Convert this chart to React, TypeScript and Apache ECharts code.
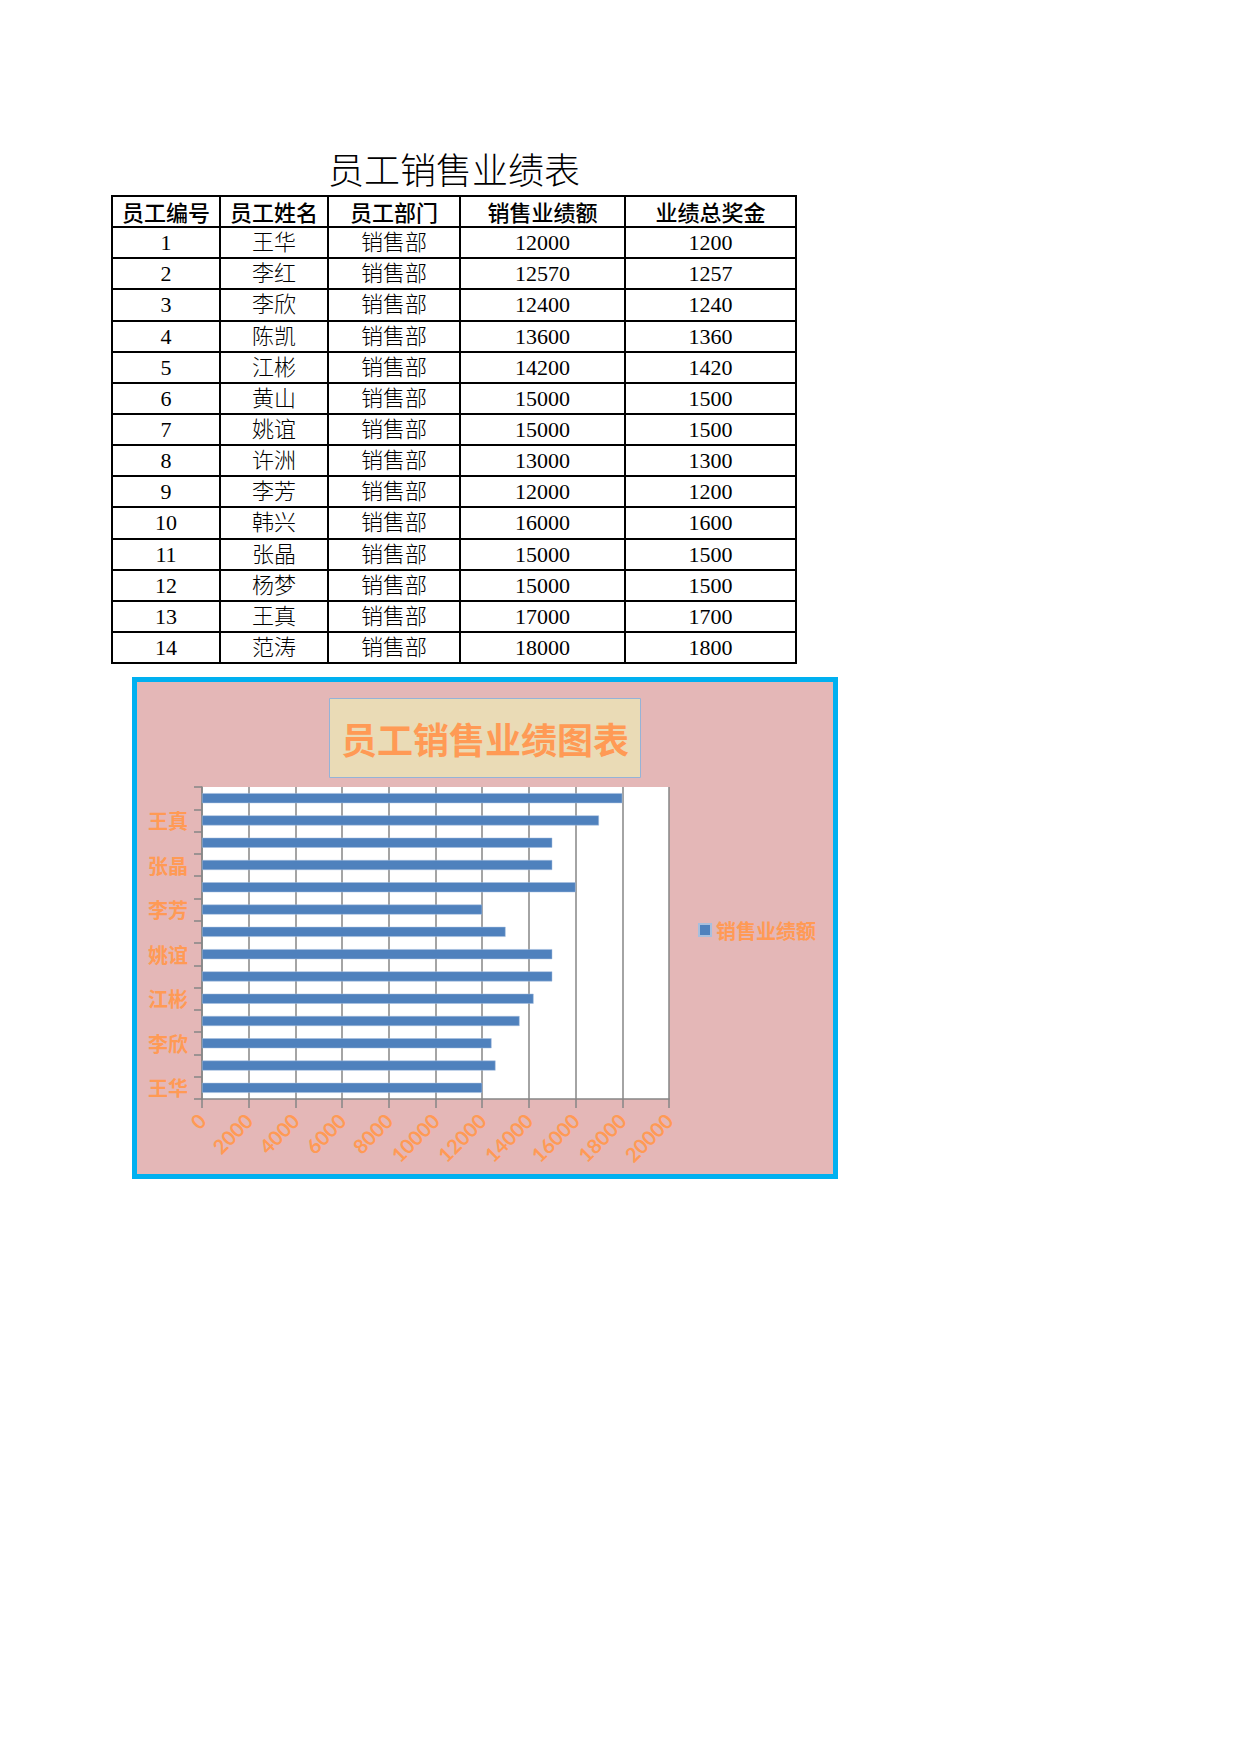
import React, { useEffect, useRef } from 'react';
import * as echarts from 'echarts';

// table data
const tableTitle = '员工销售业绩表';
const headers = ['员工编号', '员工姓名', '员工部门', '销售业绩额', '业绩总奖金'];
const ids = [1, 2, 3, 4, 5, 6, 7, 8, 9, 10, 11, 12, 13, 14];
const names = ['王华', '李红', '李欣', '陈凯', '江彬', '黄山', '姚谊', '许洲', '李芳', '韩兴', '张晶', '杨梦', '王真', '范涛'];
const dept = '销售部';
const sales = [12000, 12570, 12400, 13600, 14200, 15000, 15000, 13000, 12000, 16000, 15000, 15000, 17000, 18000];
const bonus = [1200, 1257, 1240, 1360, 1420, 1500, 1500, 1300, 1200, 1600, 1500, 1500, 1700, 1800];

// chart texts
const chartTitle = '员工销售业绩图表';
const seriesName = '销售业绩额';

const colWidths = [108, 108, 132, 165, 171];
const ORANGE = '#FF9A55';
const GRAY = '#868686';

const SalesChart: React.FC = () => {
  const chartRef = useRef<HTMLDivElement>(null);

  useEffect(() => {
    if (!chartRef.current) return;
    const chart = echarts.init(chartRef.current, undefined, { renderer: 'svg' });

    const option: echarts.EChartsOption = {
      animation: false,
      backgroundColor: 'transparent',
      graphic: [
        {
          type: 'rect',
          z: -10,
          shape: { x: 4.5, y: 4.5, width: 701, height: 497 },
          style: { fill: '#E4B7B7', stroke: '#00B0F0', lineWidth: 5 },
        },
      ],
      title: {
        text: chartTitle,
        left: 199,
        top: 23,
        padding: [20, 12],
        backgroundColor: '#EADBB6',
        borderColor: '#95B3D7',
        borderWidth: 1,
        textStyle: {
          color: ORANGE,
          fontSize: 36,
          lineHeight: 40,
          fontWeight: 'bold',
          fontFamily: '"Noto Sans CJK SC", sans-serif',
        },
      },
      legend: {
        data: [seriesName],
        left: 563,
        top: 240,
        icon: 'rect',
        itemWidth: 12,
        itemHeight: 12,
        textStyle: {
          color: ORANGE,
          fontSize: 20,
          lineHeight: 20,
          fontWeight: 'bold',
          fontFamily: '"Noto Sans CJK SC", sans-serif',
        },
      },
      grid: {
        left: 72,
        top: 112,
        width: 467,
        height: 312,
        show: true,
        backgroundColor: '#ffffff',
        borderWidth: 0,
      },
      xAxis: {
        type: 'value',
        min: 0,
        max: 20000,
        interval: 2000,
        axisLine: { show: true, lineStyle: { color: GRAY, width: 1.5 } },
        axisTick: { show: true, length: 9, lineStyle: { color: GRAY, width: 1.5 } },
        splitLine: { show: true, lineStyle: { color: GRAY, width: 1.5 } },
        axisLabel: {
          rotate: 45,
          margin: 18,
          color: ORANGE,
          fontSize: 20,
          fontWeight: 'bold',
          fontFamily: 'Lato, "Noto Sans", sans-serif',
          formatter: (v: number) => String(v),
        },
      },
      yAxis: {
        type: 'category',
        data: names,
        axisLine: { show: true, lineStyle: { color: GRAY, width: 1.5 } },
        axisTick: { show: true, interval: 0, length: 8, lineStyle: { color: GRAY, width: 1.5 } },
        splitLine: { show: false },
        axisLabel: {
          interval: 1,
          margin: 14,
          color: ORANGE,
          fontSize: 20,
          fontWeight: 'bold',
          fontFamily: '"Noto Sans CJK SC", sans-serif',
        },
      },
      series: [
        {
          name: seriesName,
          type: 'bar',
          data: sales,
          barWidth: 10,
          itemStyle: {
            color: '#4F81BD',
            borderColor: '#A7BFDE',
            borderWidth: 0.5,
          },
        },
      ],
    };

    chart.setOption(option);
    return () => {
      chart.dispose();
    };
  }, []);

  return (
    <div
      ref={chartRef}
      style={{ position: 'absolute', left: 130, top: 675, width: 710, height: 506 }}
    />
  );
};

const cellStyle: React.CSSProperties = {
  border: '2px solid #000',
  height: 29.15,
  padding: 0,
  textAlign: 'center',
  verticalAlign: 'middle',
  lineHeight: '29px',
  whiteSpace: 'nowrap',
  overflow: 'hidden',
};

const App: React.FC = () => {
  return (
    <div
      style={{
        position: 'absolute',
        left: 0,
        top: 0,
        width: 1240,
        height: 1754,
        background: '#ffffff',
        overflow: 'hidden',
      }}
    >
      <div
        style={{
          position: 'absolute',
          left: 112,
          top: 148,
          width: 684,
          textAlign: 'center',
          fontSize: 36,
          lineHeight: '40px',
          fontWeight: 300,
          fontFamily: '"Noto Sans CJK SC", sans-serif',
          color: '#000',
        }}
      >
        {tableTitle}
      </div>
      <table
        style={{
          position: 'absolute',
          left: 111,
          top: 195,
          width: 686,
          borderCollapse: 'collapse',
          tableLayout: 'fixed',
          color: '#000',
        }}
      >
        <colgroup>
          {colWidths.map((w, i) => (
            <col key={i} style={{ width: w }} />
          ))}
        </colgroup>
        <tbody>
          <tr>
            {headers.map((h) => (
              <td
                key={h}
                style={{
                  ...cellStyle,
                  fontSize: 22,
                  fontWeight: 500,
                  fontFamily: '"Noto Sans CJK SC", sans-serif',
                }}
              >
                {h}
              </td>
            ))}
          </tr>
          {ids.map((id, i) => (
            <tr key={id}>
              {[String(id), names[i], dept, String(sales[i]), String(bonus[i])].map((v, j) => (
                <td
                  key={j}
                  style={{
                    ...cellStyle,
                    fontSize: 22,
                    fontWeight: 300,
                    fontFamily: '"Liberation Serif", "Noto Sans CJK SC", serif',
                  }}
                >
                  {v}
                </td>
              ))}
            </tr>
          ))}
        </tbody>
      </table>
      <SalesChart />
    </div>
  );
};

export default App;
